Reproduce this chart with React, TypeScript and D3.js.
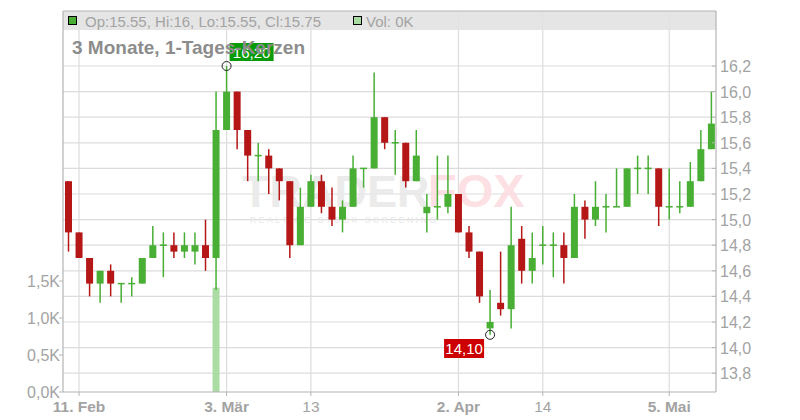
import * as React from "react";
import * as d3 from "d3";

// daily candles, index 0..61
const opens = [
  15.3, 14.9, 14.7, 14.5, 14.6, 14.5, 14.5, 14.5, 14.7, 14.8, 14.8, 14.75, 14.75, 14.8, 14.7, 15.7,
  16.0, 15.7, 15.5, 15.5, 15.4, 15.3, 14.8, 15.1, 15.3, 15.1, 15.0, 15.1, 15.4, 15.4, 15.8, 15.6,
  15.6, 15.3, 15.05, 15.1, 15.1, 15.2, 14.9, 14.75, 14.15, 14.35, 14.3, 14.85, 14.6, 14.8, 14.8, 14.8,
  14.7, 15.1, 15.0, 15.1, 15.1, 15.1, 15.4, 15.4, 15.4, 15.1, 15.1, 15.1, 15.3, 15.55,
];
const highs = [
  15.3, 14.9, 14.7, 14.6, 14.65, 14.5, 14.55, 14.7, 14.95, 14.9, 14.9, 14.9, 14.9, 15.0, 16.0, 16.2,
  16.0, 15.7, 15.6, 15.55, 15.4, 15.3, 15.25, 15.35, 15.35, 15.25, 15.15, 15.5, 15.4, 16.15, 15.8, 15.7,
  15.6, 15.7, 15.2, 15.5, 15.5, 15.2, 14.95, 14.75, 14.45, 14.75, 15.1, 14.95, 14.9, 14.95, 14.9, 14.9,
  15.2, 15.15, 15.3, 15.2, 15.4, 15.4, 15.5, 15.5, 15.4, 15.4, 15.3, 15.45, 15.7, 16.0,
];
const lows = [
  14.75, 14.7, 14.4, 14.35, 14.4, 14.35, 14.4, 14.5, 14.7, 14.55, 14.7, 14.7, 14.65, 14.6, 14.45, 15.7,
  15.55, 15.3, 15.3, 15.2, 15.15, 14.7, 14.8, 15.1, 15.05, 14.95, 14.9, 15.1, 15.25, 15.4, 15.55, 15.35,
  15.25, 15.3, 14.9, 15.0, 15.05, 14.9, 14.7, 14.35, 14.1, 14.25, 14.15, 14.5, 14.5, 14.65, 14.55, 14.5,
  14.7, 14.85, 14.95, 14.9, 15.1, 15.1, 15.2, 15.2, 14.95, 15.0, 15.05, 15.1, 15.3, 15.55,
];
const closes = [
  14.9, 14.7, 14.5, 14.6, 14.5, 14.5, 14.5, 14.7, 14.8, 14.8, 14.75, 14.8, 14.8, 14.7, 15.7, 16.0,
  15.7, 15.5, 15.5, 15.4, 15.3, 14.8, 15.1, 15.3, 15.1, 15.0, 15.1, 15.4, 15.4, 15.8, 15.6, 15.6,
  15.3, 15.5, 15.1, 15.1, 15.2, 14.9, 14.75, 14.4, 14.2, 14.3, 14.8, 14.6, 14.7, 14.8, 14.8, 14.7,
  15.1, 15.0, 15.1, 15.1, 15.1, 15.4, 15.4, 15.4, 15.1, 15.1, 15.1, 15.3, 15.55, 15.75,
];
// volume in thousands (only one day shows a bar)
const volumes = opens.map((_, i) => (i === 14 ? 1.41 : 0));

const xTickIdx = [1, 15, 23, 37, 45, 57];
const xTickLabels = ["11. Feb", "3. Mär", "13", "2. Apr", "14", "5. Mai"];
const xTickBold = [true, true, false, true, false, true];
const priceTicks = [13.8, 14.0, 14.2, 14.4, 14.6, 14.8, 15.0, 15.2, 15.4, 15.6, 15.8, 16.0, 16.2];
const volTicks = [0, 0.5, 1.0, 1.5];

const W = 800;
const H = 420;
const left = 63;
const right = 716;
const top = 11;
const bottom = 392;
const font = "'Liberation Sans', Arial, sans-serif";
const UP = "#48ae34";
const DOWN = "#b51717";
const GRID = "#dcdcdc";
const AXIS = "#b4b4b4";
const TXT = "#a3a3a3";

const fmt = (v: number, d: number) => v.toFixed(d).replace(".", ",");

export default function App() {
  const x = d3.scaleLinear().domain([0, opens.length - 1]).range([68.5, 711.4]);
  const y = d3.scaleLinear().domain([13.8, 16.2]).range([373.2, 66]);
  const yv = d3.scaleLinear().domain([0, 1.5]).range([bottom, 281]);
  const bw = 7;

  const hiIdx = d3.maxIndex(highs);
  const loIdx = d3.minIndex(lows);

  return (
    <svg width={W} height={H} style={{ position: "absolute", left: 0, top: 0 }} fontFamily={font}>
      <rect width={W} height={H} fill="#fff" />
      {/* grid */}
      {priceTicks.map((t) => (
        <line key={"h" + t} x1={left} x2={right} y1={y(t)} y2={y(t)} stroke={GRID} strokeWidth={1.2} />
      ))}
      {xTickIdx.map((i) => (
        <line key={"v" + i} x1={x(i)} x2={x(i)} y1={top} y2={bottom} stroke={GRID} strokeWidth={1.2} />
      ))}
      {/* watermark */}
      <g opacity={0.9}>
        <text x={242} y={207} fontSize={45} fontWeight="bold" fill="#e9e9e9">TRADER</text>
        <text x={428} y={207} fontSize={47} fontWeight="bold" fill="#fcdde1">FOX</text>
        <text x={250} y={223} fontSize={8.5} fill="#e6e6e6" letterSpacing={2.6}>REALTIME STOCK SCREENING</text>
      </g>
      {/* legend bar */}
      <rect x={left} y={top} width={right - left} height={19} fill="#e2e2e2" opacity={0.9} />
      <rect x={68.5} y={16.5} width={8} height={8} fill={UP} stroke="#000" strokeWidth={1} />
      <text x={85} y={26.5} fontSize={15} fill={TXT}>
        {`Op:${opens[61]}, Hi:${highs[61].toFixed(0)}, Lo:${lows[61]}, Cl:${closes[61]}`}
      </text>
      <rect x={353.5} y={16.5} width={8} height={8} fill="#a9dca2" stroke="#000" strokeWidth={1} />
      <text x={366} y={26.5} fontSize={15} fill={TXT}>{`Vol: ${volumes[61].toFixed(0)}K`}</text>
      {/* volume */}
      {volumes.map((v, i) =>
        v > 0 ? (
          <rect key={"vol" + i} x={x(i) - bw / 2} y={yv(v)} width={bw} height={bottom - yv(v)} fill="#aadca3" />
        ) : null
      )}
      {/* candles */}
      {opens.map((o, i) => {
        const c = closes[i];
        const col = c >= o ? UP : DOWN;
        const yt = y(Math.max(o, c));
        const yb = y(Math.min(o, c));
        return (
          <g key={"c" + i}>
            <line x1={x(i)} x2={x(i)} y1={y(highs[i])} y2={y(lows[i])} stroke={col} strokeWidth={1.5} />
            {o === c ? (
              <line x1={x(i) - bw / 2} x2={x(i) + bw / 2} y1={yt} y2={yt} stroke={col} strokeWidth={1.5} />
            ) : (
              <rect x={x(i) - bw / 2} y={yt} width={bw} height={yb - yt} fill={col} />
            )}
          </g>
        );
      })}
      {/* high / low markers */}
      <rect x={x(hiIdx) + 3} y={43} width={44} height={18} fill="#079b07" />
      <text x={x(hiIdx) + 25} y={57.5} fontSize={15} fill="#fff" textAnchor="middle">{fmt(highs[hiIdx], 2)}</text>
      <circle cx={x(hiIdx)} cy={y(highs[hiIdx])} r={4.5} fill="none" stroke="#222" strokeWidth={1} />
      <rect x={x(loIdx) - 46} y={339} width={40} height={19} fill="#cc0000" />
      <text x={x(loIdx) - 26} y={354} fontSize={15} fill="#fff" textAnchor="middle">{fmt(lows[loIdx], 2)}</text>
      <circle cx={x(loIdx)} cy={y(lows[loIdx])} r={4.5} fill="none" stroke="#222" strokeWidth={1} />
      {/* title, drawn over the high label as in the original */}
      <text x={72} y={54} fontSize={19} fontWeight="bold" fill="#8c8c8c">3 Monate, 1-Tages-Kerzen</text>
      {/* frame / axes */}
      <line x1={left} x2={left} y1={top} y2={bottom} stroke={AXIS} strokeWidth={1.2} />
      <line x1={right} x2={right} y1={top} y2={bottom} stroke={AXIS} strokeWidth={1.2} />
      <line x1={left} x2={right} y1={top} y2={top} stroke={AXIS} strokeWidth={1} />
      <line x1={left} x2={right} y1={bottom} y2={bottom} stroke={AXIS} strokeWidth={1.2} />
      {/* right price axis */}
      {priceTicks.map((t) => (
        <g key={"pt" + t}>
          <line x1={right - 4} x2={right} y1={y(t)} y2={y(t)} stroke={AXIS} />
          <text x={720} y={y(t) + 6} fontSize={16} fill={TXT}>{fmt(t, 1)}</text>
        </g>
      ))}
      {/* left volume axis */}
      {volTicks.map((t) => (
        <g key={"vt" + t}>
          <line x1={left - 4} x2={left} y1={yv(t)} y2={yv(t)} stroke={AXIS} />
          <text x={left - 3} y={yv(t) + 6} fontSize={16} fill={TXT} textAnchor="end">{fmt(t, 1) + "K"}</text>
        </g>
      ))}
      {/* x axis */}
      {xTickIdx.map((i, k) => (
        <g key={"xt" + i}>
          <line x1={x(i)} x2={x(i)} y1={bottom} y2={bottom + 4} stroke={AXIS} />
          <text
            x={x(i)}
            y={412}
            fontSize={15.5}
            fontWeight={xTickBold[k] ? "bold" : "normal"}
            fill={TXT}
            textAnchor="middle"
          >
            {xTickLabels[k]}
          </text>
        </g>
      ))}
    </svg>
  );
}
